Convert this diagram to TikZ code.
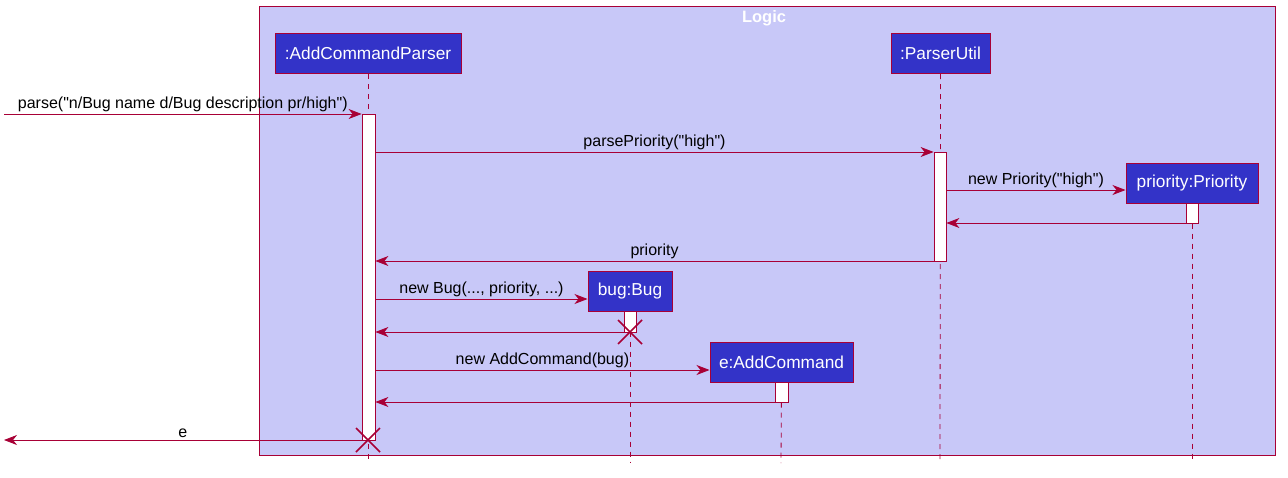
\documentclass[tikz,border=0pt]{standalone}
\usepackage{fontspec}
\setmainfont{Liberation Sans}[Ligatures=TeXOff]
\usetikzlibrary{arrows.meta,positioning,calc}

\definecolor{umlred}{HTML}{A80036}
\definecolor{umlblue}{HTML}{3333C8}
\definecolor{umlback}{HTML}{C8C8F8}

\begin{document}
\begin{tikzpicture}[
    x=1pt, y=-1pt,
    party/.style={rectangle, draw=umlred, line width=1pt, fill=umlblue, text=white,
      inner sep=0pt, minimum height=40pt, font=\fontsize{17.3}{20}\selectfont},
    actbar/.style={rectangle, draw=umlred, line width=0.8pt, fill=white, inner sep=0pt, minimum width=12pt},
    msg/.style={draw=umlred, line width=0.8pt, -{Stealth[length=13pt, width=10pt, inset=4pt]}},
    life/.style={draw=umlred, line width=0.8pt, dash pattern=on 5pt off 5pt},
    lbl/.style={midway, above=1pt, text=black, inner sep=1pt, font=\fontsize{16}{18}\selectfont},
    cross/.style={draw=umlred, line width=1.6pt}
]
\useasboundingbox (0,0) rectangle (1288,477);

% Logic frame
\node (logic) at (767,230.5) [rectangle, draw=umlred, line width=0.8pt, fill=umlback,
  minimum width=1016pt, minimum height=449pt] {};
\node (logictitle) at (764,18) [text=white, font=\fontsize{16.5}{18}\selectfont\bfseries] {Logic};

% participants
\node (acp) at (368,53.5) [party, minimum width=186pt] {:AddCommandParser};
\node (pu) at (940.5,53.5) [party, minimum width=99pt] {:ParserUtil};
\node (prio) at (1192,183) [party, minimum width=132pt] {priority:Priority};
\node (bug) at (630,291) [party, minimum width=84pt] {bug:Bug};
\node (cmd) at (781.5,362) [party, minimum width=143pt] {e:AddCommand};

% lifelines
\coordinate (acpend) at (368,463);
\coordinate (puend) at (940,463);
\coordinate (prioend) at (1192,463);
\coordinate (bugend) at (630,463);
\coordinate (cmdend) at (781,463);
\draw[life] (acp.south) -- (acpend);
\draw[life] (pu.south) -- (puend);
\draw[life] (prio.south) -- (prioend);
\draw[life] (bug.south) -- (bugend);
\draw[life] (cmd.south) -- (cmdend);

% activations
\node (acpact) at (368.5,277) [actbar, minimum width=13pt, minimum height=326pt] {};
\node (puact) at (940,206.5) [actbar, minimum height=109pt] {};
\node (prioact) at (1192,213) [actbar, minimum height=20pt] {};
\node (bugact) at (630,321.5) [actbar, minimum height=21pt] {};
\node (cmdact) at (781.5,392) [actbar, minimum width=13pt, minimum height=20pt] {};

% outside ends
\coordinate (left) at (4,114);
\coordinate (leftret) at (4,440);

% messages
\draw[msg] (left) -- (acpact.west |- left) node[lbl] {parse("n/Bug name d/Bug description pr/high")};
\draw[msg] (acpact.east |- 0,152) -- (puact.west |- 0,152) node[lbl] {parsePriority("high")};
\draw[msg] (puact.east |- 0,190) -- (prio.west |- 0,190) node[lbl] {new Priority("high")};
\draw[msg] (prioact.west |- 0,223) -- (puact.east |- 0,223);
\draw[msg] (puact.west |- 0,261) -- (acpact.east |- 0,261) node[lbl] {priority};
\draw[msg] (acpact.east |- 0,299) -- (bug.west |- 0,299) node[lbl] {new Bug(..., priority, ...)};
\draw[msg] (bugact.west |- 0,332) -- (acpact.east |- 0,332);
\draw[msg] (acpact.east |- 0,370) -- (cmd.west |- 0,370) node[lbl] {new AddCommand(bug)};
\draw[msg] (cmdact.west |- 0,402) -- (acpact.east |- 0,402);
\draw[msg] (acpact.west |- leftret) -- (leftret) node[lbl] {e};

% destroy marks
\coordinate (bugx) at (630,332);
\coordinate (acpx) at (368,440);
\draw[cross] ($(bugx)+(-12,-12)$) -- ($(bugx)+(12,12)$) ($(bugx)+(-12,12)$) -- ($(bugx)+(12,-12)$);
\draw[cross] ($(acpx)+(-12,-12)$) -- ($(acpx)+(12,12)$) ($(acpx)+(-12,12)$) -- ($(acpx)+(12,-12)$);

\end{tikzpicture}
\end{document}
